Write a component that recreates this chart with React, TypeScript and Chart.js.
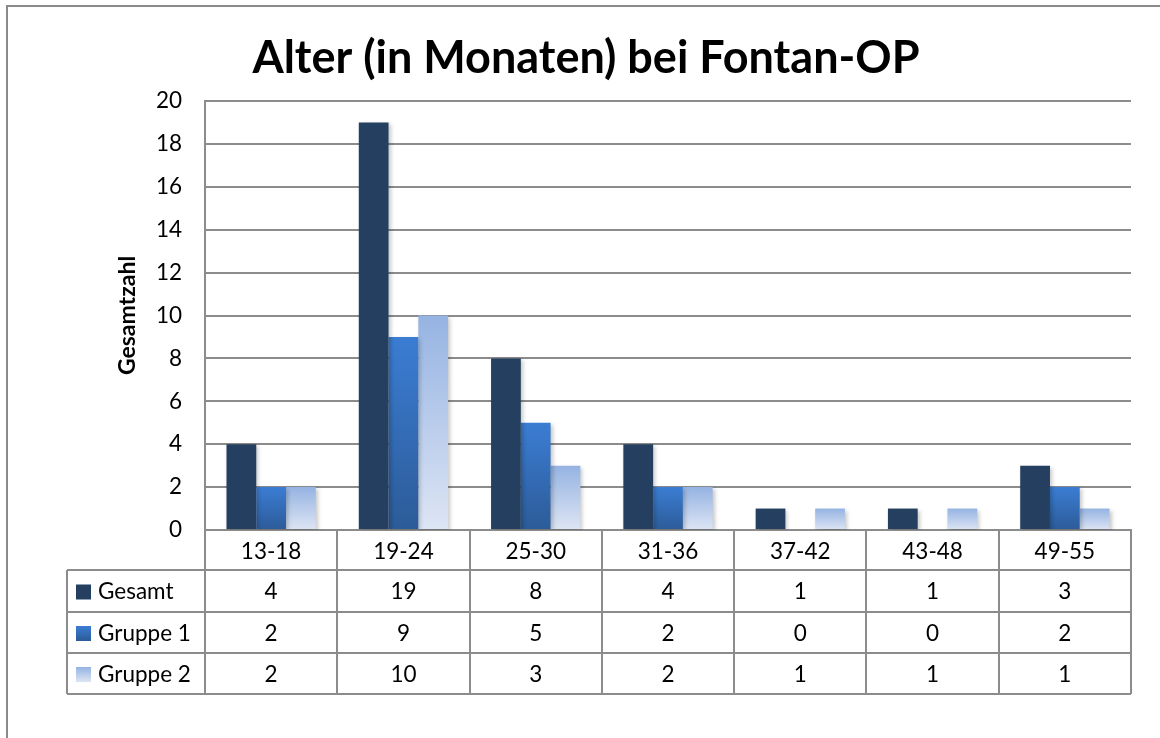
import React, { useEffect, useRef } from "react";
import { Chart, registerables } from "chart.js";

Chart.register(...registerables);

const chartTitle = "Alter (in Monaten) bei Fontan-OP";
const yAxisTitle = "Gesamtzahl";
const categories = ["13-18", "19-24", "25-30", "31-36", "37-42", "43-48", "49-55"];
const seriesNames = ["Gesamt", "Gruppe 1", "Gruppe 2"];
const gesamt = [4, 19, 8, 4, 1, 1, 3];
const gruppe1 = [2, 9, 5, 2, 0, 0, 2];
const gruppe2 = [2, 10, 3, 2, 1, 1, 1];
const yMin = 0;
const yMax = 20;
const yStep = 2;

const FONT = "Lato, 'Open Sans', sans-serif";
const LINE = "#8c8c8c";
const TXT = 22.5;

type Grad = [string, string] | string;
const fills: Grad[] = ["#243f60", ["#3b7dd3", "#2c5b98"], ["#95b3e2", "#dde5f4"]];

function barFill(idx: number) {
  return (ctx: any) => {
    const f = fills[idx];
    if (typeof f === "string") return f;
    const chart = ctx.chart;
    const ys = chart.scales?.y;
    if (!ys || ctx.type !== "data") return f[0];
    const v = ctx.raw as number;
    const top = ys.getPixelForValue(v);
    const bottom = ys.getPixelForValue(0);
    if (!isFinite(top) || !isFinite(bottom) || top === bottom) return f[0];
    const g = chart.ctx.createLinearGradient(0, top, 0, bottom);
    g.addColorStop(0, f[0]);
    g.addColorStop(1, f[1]);
    return g;
  };
}

const decorPlugin = {
  id: "decor",
  beforeDatasetsDraw(chart: any) {
    const c = chart.ctx;
    c.save();
    c.shadowColor = "rgba(0,0,0,0.22)";
    c.shadowBlur = 4;
    c.shadowOffsetX = 2;
    c.shadowOffsetY = 2;
  },
  afterDatasetsDraw(chart: any) {
    chart.ctx.restore();
  },
  afterDraw(chart: any) {
    const c = chart.ctx;
    const area = chart.chartArea;
    const xs = chart.scales.x;
    c.save();
    // outer frame
    c.strokeStyle = "#8a8a8a";
    c.lineWidth = 2;
    c.beginPath();
    c.moveTo(7, 738);
    c.lineTo(7, 6);
    c.lineTo(1160, 6);
    c.stroke();

    // title
    c.fillStyle = "#000";
    c.font = `bold 45px ${FONT}`;
    c.textAlign = "center";
    c.textBaseline = "middle";
    c.fillText(chartTitle, 586, 58);

    // y axis title
    c.save();
    c.translate(128, (area.top + area.bottom) / 2);
    c.rotate(-Math.PI / 2);
    c.font = `bold 23px ${FONT}`;
    c.fillText(yAxisTitle, 0, 0);
    c.restore();

    // data table
    const rowH = [570, 612, 653, 694];
    const tableLeft = 67;
    const n = categories.length;
    const colW = (area.right - area.left) / n;
    c.strokeStyle = LINE;
    c.lineWidth = 2;
    c.beginPath();
    for (let i = 0; i <= n; i++) {
      const x = Math.round(area.left + colW * i);
      c.moveTo(x, area.bottom);
      c.lineTo(x, rowH[3]);
    }
    rowH.forEach((y) => {
      c.moveTo(tableLeft, y);
      c.lineTo(area.right, y);
    });
    c.moveTo(tableLeft, rowH[0]);
    c.lineTo(tableLeft, rowH[3]);
    c.stroke();

    const data = [gesamt, gruppe1, gruppe2];
    c.font = `${TXT}px ${FONT}`;
    c.fillStyle = "#000";
    for (let r = 0; r < 3; r++) {
      const cy = (rowH[r] + rowH[r + 1]) / 2 + 1;
      const f = fills[r];
      const sx = 76, sy = cy - 7.5, sz = 15;
      if (typeof f === "string") {
        c.fillStyle = f;
      } else {
        const g = c.createLinearGradient(0, sy, 0, sy + sz);
        g.addColorStop(0, f[0]);
        g.addColorStop(1, f[1]);
        c.fillStyle = g;
      }
      c.fillRect(sx, sy, sz, sz);
      c.fillStyle = "#000";
      c.textAlign = "left";
      c.fillText(seriesNames[r], 98, cy);
      c.textAlign = "center";
      for (let i = 0; i < n; i++) {
        c.fillText(String(data[r][i]), xs.getPixelForValue(i), cy);
      }
    }
    c.restore();
  },
};

export default function App() {
  const ref = useRef<HTMLCanvasElement | null>(null);
  useEffect(() => {
    document.body.style.margin = "0";
    const canvas = ref.current!;
    const chart = new Chart(canvas, {
      type: "bar",
      data: {
        labels: categories,
        datasets: [
          { label: seriesNames[0], data: gesamt, backgroundColor: barFill(0) },
          { label: seriesNames[1], data: gruppe1, backgroundColor: barFill(1) },
          { label: seriesNames[2], data: gruppe2, backgroundColor: barFill(2) },
        ],
      },
      options: {
        responsive: false,
        animation: false,
        devicePixelRatio: 1,
        layout: { padding: { top: 101, right: 29, left: 0, bottom: 0 } },
        datasets: { bar: { categoryPercentage: 0.675, barPercentage: 1 } },
        plugins: { legend: { display: false }, title: { display: false }, tooltip: { enabled: false } },
        scales: {
          x: {
            grid: { display: false, drawTicks: false },
            border: { display: true, color: LINE, width: 2 },
            ticks: { color: "#000", font: { family: FONT, size: TXT }, padding: 8 },
            afterFit: (s: any) => { s.height = 208; },
          },
          y: {
            min: yMin,
            max: yMax,
            grid: { color: LINE, lineWidth: 2, drawTicks: false },
            border: { display: true, color: LINE, width: 2 },
            ticks: { stepSize: yStep, color: "#000", font: { family: FONT, size: TXT }, padding: 23 },
            afterFit: (s: any) => { s.width = 205; },
          },
        },
      },
      plugins: [decorPlugin],
    });
    return () => chart.destroy();
  }, []);
  return <canvas ref={ref} width={1160} height={738} style={{ display: "block", width: 1160, height: 738 }} />;
}
